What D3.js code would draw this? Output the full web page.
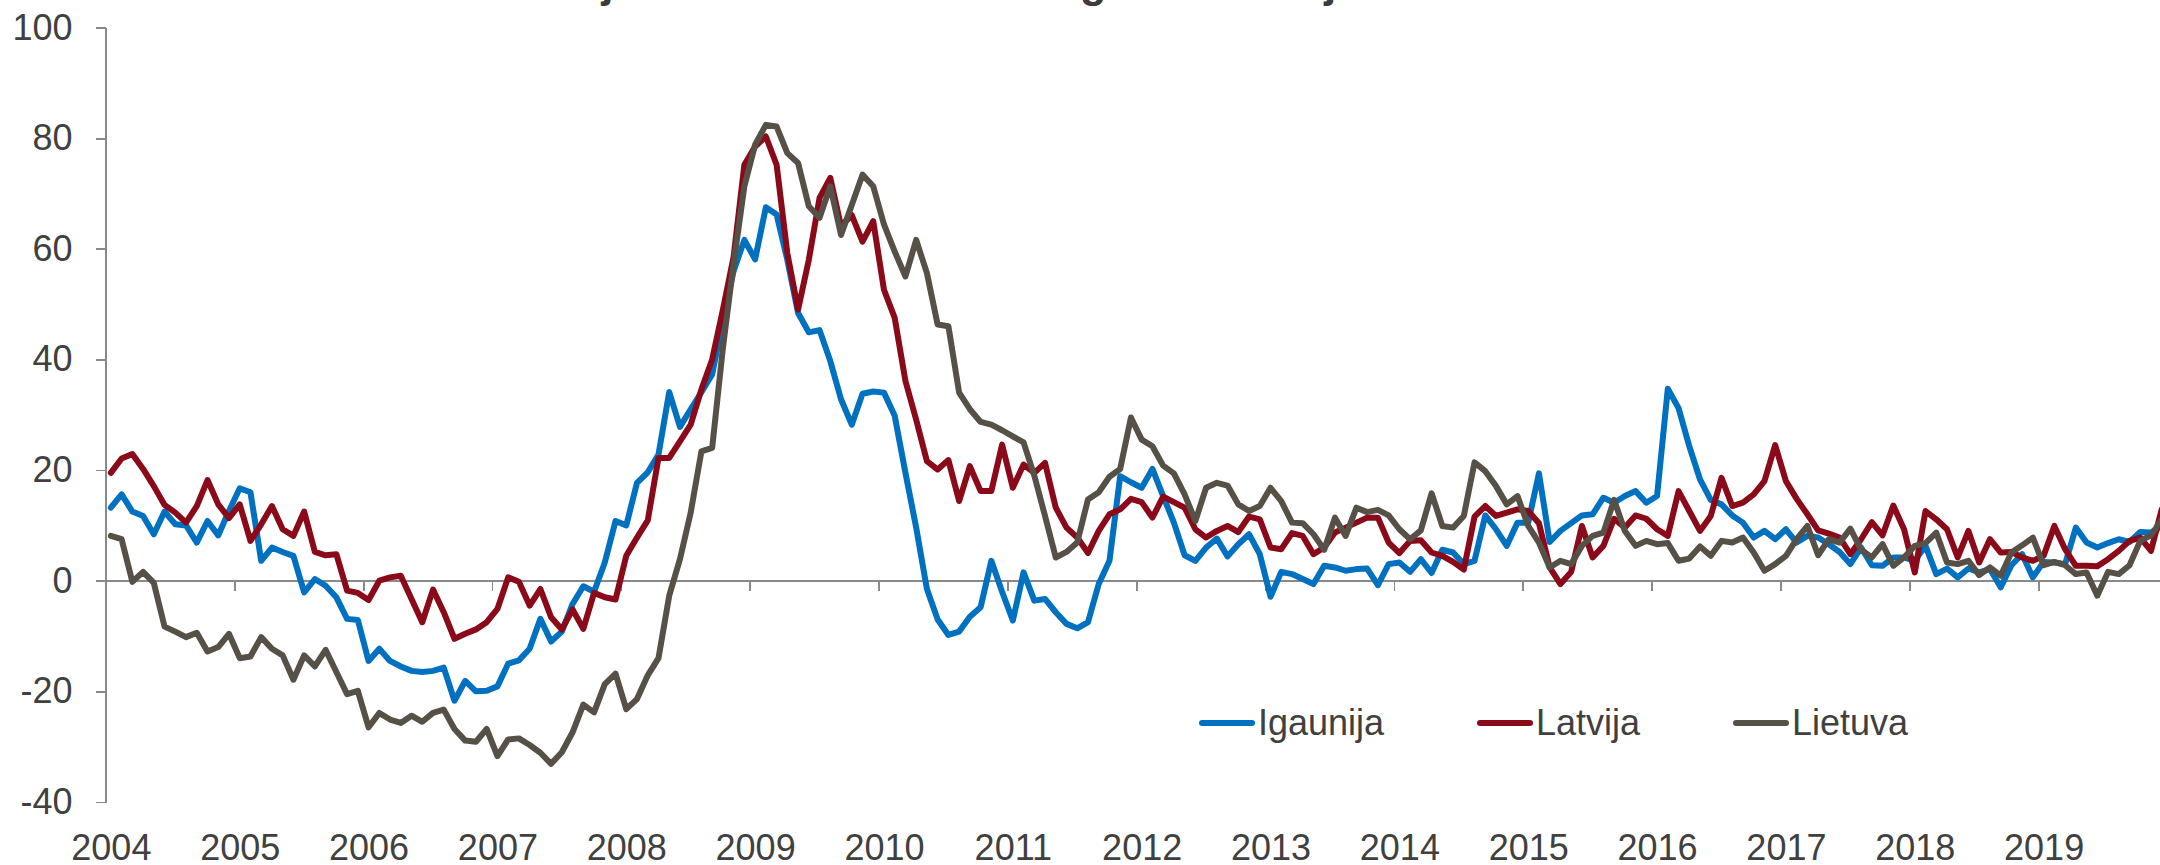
<!DOCTYPE html>
<html>
<head>
<meta charset="utf-8">
<script src="https://cdn.jsdelivr.net/npm/d3@7"></script>
<style>
  body { margin: 0; background: #fff; }
  svg { display: block; font-family: "Liberation Sans", Arial, sans-serif; }
  .axis path, .axis line { stroke: #898989; stroke-width: 1.8; shape-rendering: crispEdges; }
  .axis text { fill: #404040; font-size: 36px; font-family: "Liberation Sans", Arial, sans-serif; }
</style>
</head>
<body>
<div id="chart"></div>
<script>
/* global d3 */
var years = ["2004", "2005", "2006", "2007", "2008", "2009", "2010", "2011",
  "2012", "2013", "2014", "2015", "2016", "2017", "2018", "2019"];
var yTicks = [-40, -20, 0, 20, 40, 60, 80, 100];
var seriesNames = ["Igaunija", "Latvija", "Lietuva"];
var seriesColors = ["#0070c0", "#8b0a19", "#575046"];

// monthly values, Jan 2004 .. Dec 2019
var igaunija = [
  13.2, 15.6, 12.5, 11.7, 8.4, 12.5, 10.2, 10.0, 6.9, 10.8, 8.2, 12.6,
  16.7, 16.0, 3.6, 6.0, 5.2, 4.5, -2.1, 0.3, -0.9, -3.0, -6.9, -7.1,
  -14.5, -12.3, -14.5, -15.5, -16.3, -16.5, -16.3, -15.7, -21.7, -18.1, -20.0, -19.9,
  -19.1, -15.0, -14.4, -12.3, -6.9, -11.0, -9.2, -4.2, -1.0, -2.0, 3.3, 10.8,
  10.0, 17.7, 19.6, 22.8, 34.1, 27.8, 31.0, 34.1, 37.3, 47.0, 56.0, 61.6,
  58.1, 67.5, 66.2, 58.0, 48.4, 44.9, 45.3, 39.7, 32.8, 28.2, 33.8, 34.2,
  34.0, 29.8, 19.5, 9.6, -1.5, -7.0, -9.8, -9.2, -6.5, -4.8, 3.6, -2.0,
  -7.2, 1.5, -3.6, -3.3, -5.7, -7.8, -8.6, -7.5, -0.6, 3.6, 18.9, 17.8,
  16.8, 20.2, 15.3, 10.5, 4.6, 3.6, 6.0, 7.6, 4.4, 6.6, 8.4, 4.8,
  -2.9, 1.6, 1.2, 0.3, -0.6, 2.7, 2.4, 1.8, 2.1, 2.2, -0.8, 3.0,
  3.3, 1.6, 3.9, 1.4, 5.6, 5.1, 3.0, 3.6, 11.8, 9.3, 6.3, 10.5,
  10.5, 19.4, 7.0, 9.0, 10.4, 11.8, 12.0, 15.0, 14.1, 15.3, 16.2, 14.1,
  15.3, 34.7, 31.2, 24.3, 18.3, 14.6, 13.8, 11.8, 10.5, 7.8, 9.0, 7.5,
  9.3, 6.9, 8.1, 7.8, 6.6, 5.2, 3.0, 6.0, 2.8, 2.7, 4.2, 4.2,
  3.6, 6.3, 1.2, 2.2, 0.6, 2.2, 1.5, 2.1, -1.2, 2.8, 4.8, 0.6,
  3.4, 3.3, 3.0, 9.6, 6.9, 6.0, 6.8, 7.5, 7.0, 8.8, 8.7, 9.9
];
var latvija = [
  19.5, 22.1, 22.9, 20.2, 17.1, 13.7, 12.3, 10.5, 13.5, 18.2, 13.8, 11.3,
  13.8, 7.2, 10.2, 13.5, 9.3, 8.1, 12.5, 5.2, 4.6, 4.8, -1.8, -2.2,
  -3.5, 0.0, 0.6, 0.9, -3.3, -7.5, -1.6, -5.7, -10.5, -9.6, -8.8, -7.5,
  -5.1, 0.6, -0.2, -4.5, -1.5, -6.6, -8.8, -5.2, -8.7, -2.2, -3.0, -3.4,
  4.5, 7.8, 10.9, 22.2, 22.2, 25.2, 28.2, 34.6, 40.0, 49.0, 58.6, 75.2,
  78.5, 80.3, 75.2, 59.2, 49.0, 58.0, 69.2, 72.8, 64.1, 66.1, 61.3, 65.0,
  52.6, 47.5, 36.1, 29.1, 21.6, 20.1, 21.8, 14.4, 20.7, 16.2, 16.2, 24.6,
  16.8, 21.0, 19.5, 21.3, 13.2, 9.6, 7.8, 5.0, 9.0, 12.0, 12.9, 14.8,
  14.2, 11.4, 15.2, 14.2, 13.2, 9.3, 7.8, 9.0, 9.9, 8.8, 11.6, 11.1,
  6.0, 5.7, 8.6, 8.1, 4.8, 6.0, 8.7, 9.6, 10.5, 11.4, 11.4, 6.9,
  5.0, 7.2, 7.3, 5.1, 4.5, 3.4, 2.0, 11.6, 13.5, 11.7, 12.3, 12.9,
  12.6, 10.4, 2.4, -0.6, 1.6, 9.9, 4.2, 6.3, 11.2, 9.6, 11.8, 11.2,
  9.3, 8.1, 16.2, 12.6, 9.0, 11.7, 18.6, 13.5, 14.1, 15.6, 18.0, 24.5,
  18.0, 14.8, 12.0, 9.1, 8.5, 7.8, 4.8, 7.5, 10.6, 8.2, 13.6, 9.3,
  1.5, 12.6, 11.1, 9.3, 4.2, 9.0, 3.3, 7.5, 5.1, 5.2, 4.2, 3.6,
  4.5, 9.9, 5.7, 2.7, 2.7, 2.6, 3.9, 5.4, 7.2, 7.8, 5.4, 12.9
];
var lietuva = [
  8.1, 7.5, -0.2, 1.6, -0.4, -8.3, -9.2, -10.2, -9.4, -12.8, -12.0, -9.6,
  -14.0, -13.7, -10.2, -12.3, -13.5, -17.9, -13.5, -15.5, -12.5, -16.5, -20.5, -19.9,
  -26.5, -23.9, -25.1, -25.7, -24.4, -25.5, -23.9, -23.3, -26.8, -28.9, -29.1, -26.8,
  -31.7, -28.7, -28.5, -29.7, -31.1, -33.1, -31.0, -27.4, -22.4, -23.8, -18.7, -16.8,
  -23.2, -21.4, -17.1, -14.0, -2.7, 3.9, 12.3, 23.4, 24.0, 42.1, 57.4, 71.3,
  78.8, 82.4, 82.1, 77.3, 75.5, 67.7, 65.6, 71.3, 62.5, 67.9, 73.4, 71.3,
  64.4, 59.5, 55.0, 61.6, 55.6, 46.3, 46.0, 34.0, 31.0, 28.7, 28.2, 27.2,
  26.1, 25.0, 19.0, 11.7, 4.2, 5.2, 6.9, 14.7, 16.0, 18.8, 20.2, 29.5,
  25.5, 24.3, 20.8, 19.4, 15.6, 10.8, 16.8, 17.7, 17.2, 13.8, 12.6, 13.5,
  16.8, 14.4, 10.5, 10.4, 8.4, 5.6, 11.4, 8.1, 13.2, 12.4, 12.8, 11.8,
  9.3, 7.5, 9.1, 15.8, 9.9, 9.6, 11.7, 21.4, 19.8, 17.1, 13.8, 15.3,
  9.9, 6.9, 2.4, 3.6, 3.0, 6.3, 8.1, 8.7, 14.6, 9.0, 6.3, 7.2,
  6.6, 6.8, 3.6, 4.0, 6.2, 4.5, 7.2, 6.9, 7.8, 5.1, 1.8, 3.0,
  4.5, 7.5, 9.9, 4.6, 7.5, 6.9, 9.4, 5.6, 4.2, 6.6, 2.7, 4.2,
  6.3, 6.8, 8.7, 3.3, 3.0, 3.6, 1.0, 2.4, 0.9, 5.1, 6.4, 7.8,
  2.8, 3.4, 2.8, 1.2, 1.5, -2.7, 1.6, 1.2, 2.8, 7.2, 8.2, 11.1
];

var W = 2160, H = 865;
var nMonths = years.length * 12;

var svg = d3.select("#chart").append("svg")
  .attr("width", W).attr("height", H);

// title sits mostly above the visible frame, only its descenders show
svg.append("text")
  .attr("x", 541).attr("y", -3)
  .style("font-family", "'Liberation Sans', Arial, sans-serif")
  .style("font-weight", "bold").style("font-size", "43.5px")
  .style("fill", "#3c3c3c")
  .text("Mājsaimniecību bezdarba gaidas Baltijas valstīs");

var x = d3.scaleLinear().domain([0, nMonths]).range([105.5, 2167.1]);
var y = d3.scaleLinear().domain([-40, 100]).range([802, 27.5]);

// y axis (plain hyphen for negatives, like the original)
svg.append("g").attr("class", "axis y-axis")
  .attr("transform", "translate(105.5,0)")
  .call(d3.axisLeft(y).tickValues(yTicks)
    .tickFormat(function(d) { return String(d); })
    .tickSize(10).tickSizeOuter(0).tickPadding(23));

// zero line with year ticks
svg.append("g").attr("class", "axis x-axis")
  .attr("transform", "translate(0," + y(0) + ")")
  .call(d3.axisBottom(x)
    .tickValues(d3.range(0, nMonths + 1, 12))
    .tickSize(10).tickSizeOuter(0).tickFormat(""));

// year labels at the bottom, centred on January points
var labelAxis = svg.append("g").attr("class", "axis x-labels")
  .attr("transform", "translate(0," + y(-40) + ")")
  .call(d3.axisBottom(x)
    .tickValues(years.map(function(d, i) { return i * 12 + 0.5; }))
    .tickFormat(function(d) { return years[Math.floor(d / 12)]; })
    .tickSize(0).tickPadding(32));
labelAxis.select(".domain").remove();

var line = d3.line()
  .x(function(d, i) { return x(i + 0.5); })
  .y(function(d) { return y(d); });

var allSeries = [igaunija, latvija, lietuva];
svg.append("g").selectAll("path.series").data(allSeries).enter()
  .append("path").attr("class", "series")
  .attr("d", line)
  .attr("fill", "none")
  .attr("stroke", function(d, i) { return seriesColors[i]; })
  .attr("stroke-width", 6)
  .attr("stroke-linejoin", "round")
  .attr("stroke-linecap", "round");

// legend
var legendX = [1202, 1480, 1736];
var legend = svg.append("g").selectAll("g").data(seriesNames).enter()
  .append("g")
  .attr("transform", function(d, i) { return "translate(" + legendX[i] + ",723)"; });
legend.append("line")
  .attr("x1", 0).attr("x2", 50).attr("y1", 0).attr("y2", 0)
  .attr("stroke", function(d, i) { return seriesColors[i]; })
  .attr("stroke-width", 6).attr("stroke-linecap", "round");
legend.append("text")
  .attr("x", 56).attr("y", 12)
  .style("font-size", "36px").style("fill", "#404040")
  .text(function(d) { return d; });
</script>
</body>
</html>
